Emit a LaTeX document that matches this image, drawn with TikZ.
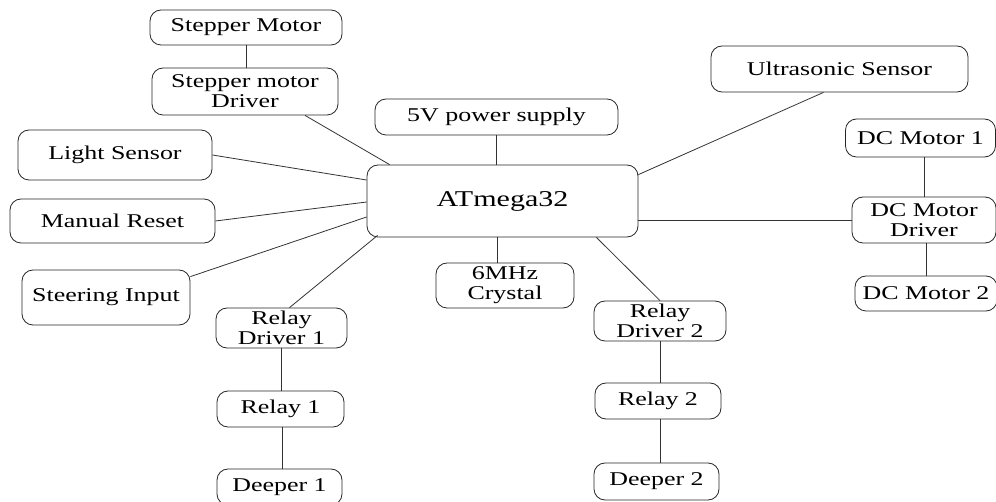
\documentclass[tikz,border=0pt]{standalone}
\usepackage{fontspec}
\setmainfont{Liberation Serif}[FakeStretch=1.33]
\usepackage{tikz}
\usetikzlibrary{positioning,calc}

\begin{document}
\begin{tikzpicture}[x=1pt, y=1pt,
    blk/.style={draw=black!85, line width=0.8pt, rounded corners=11pt, inner sep=0pt, align=center,
      font=\fontsize{19.5}{20}\selectfont},
    wire/.style={draw=black!80, line width=0.8pt}]
\useasboundingbox (0,0) rectangle (996,-502);
\clip (0,0) rectangle (996,-502);

\node[blk, minimum width=271, minimum height=72, font=\fontsize{22.6}{24}\selectfont] (mcu) at (502.5,-201) {ATmega32};

\node[blk, minimum width=192, minimum height=35] (smotor) at (246,-27.5) {Stepper Motor};
\node[blk, minimum width=186, minimum height=47] (sdrv) at (245,-91.5) {Stepper motor\\Driver};
\node[blk, minimum width=194, minimum height=50] (light) at (115,-155) {Light Sensor};
\node[blk, minimum width=205, minimum height=44] (reset) at (112.5,-221) {Manual Reset};
\node[blk, minimum width=168, minimum height=55] (steer) at (106,-297.5) {Steering Input};

\node[blk, minimum width=131, minimum height=40] (rdrv1) at (281.5,-328) {Relay\\Driver 1};
\node[blk, minimum width=127, minimum height=36] (relay1) at (280.5,-409) {Relay 1};
\node[blk, minimum width=125, minimum height=36] (deep1) at (279.5,-487) {Deeper 1};

\node[blk, minimum width=243, minimum height=36] (power) at (496.5,-117) {5V power supply};
\node[blk, minimum width=138, minimum height=45] (xtal) at (505,-285.5) {6MHz\\Crystal};

\node[blk, minimum width=132, minimum height=40] (rdrv2) at (660,-321) {Relay\\Driver 2};
\node[blk, minimum width=126, minimum height=36] (relay2) at (658,-401) {Relay 2};
\node[blk, minimum width=125, minimum height=37] (deep2) at (656.5,-481.5) {Deeper 2};

\node[blk, minimum width=257, minimum height=46] (ultra) at (839.5,-69) {Ultrasonic Sensor};
\node[blk, minimum width=150, minimum height=38] (dcm1) at (920.5,-138) {DC Motor 1};
\node[blk, minimum width=144, minimum height=46] (dcdrv) at (924,-220) {DC Motor\\Driver};
\node[blk, minimum width=142, minimum height=35] (dcm2) at (926,-293.5) {DC Motor 2};

\draw[wire] (smotor.south) -- (smotor.south |- sdrv.north);
\draw[wire] ([xshift=60pt]sdrv.south) -- ([xshift=23pt]mcu.north west);
\draw[wire] (light.east) -- ([yshift=21pt]mcu.west);
\draw[wire] (reset.east) -- ([yshift=-1pt]mcu.west);
\draw[wire] ([yshift=-7pt]steer.north east) -- ([yshift=-16pt]mcu.west);
\draw[wire] ([xshift=8pt]rdrv1.north) -- ([xshift=11pt, yshift=2pt]mcu.south west);
\draw[wire] (rdrv1.south) -- (rdrv1.south |- relay1.north);
\draw[wire] ([xshift=1.5pt]relay1.south) -- ([xshift=1.5pt]relay1.south |- deep1.north);
\draw[wire] (power.south) -- (power.south |- mcu.north);
\draw[wire] ([xshift=-5pt]mcu.south) -- ([xshift=-5pt]mcu.south |- xtal.north);
\draw[wire] ([xshift=-16pt]ultra.south) -- ([yshift=-10pt]mcu.north east);
\draw[wire] (dcdrv.west) -- (dcdrv.west -| mcu.east);
\draw[wire] ([xshift=-42pt]mcu.south east) -- (rdrv2.north);
\draw[wire] (rdrv2.south) -- (rdrv2.south |- relay2.north);
\draw[wire] ([xshift=2pt]relay2.south) -- ([xshift=2pt]relay2.south |- deep2.north);
\draw[wire] (dcdrv.north) -- (dcdrv.north |- dcm1.south);
\draw[wire] (dcm2.north) -- (dcm2.north |- dcdrv.south);
\end{tikzpicture}
\end{document}
